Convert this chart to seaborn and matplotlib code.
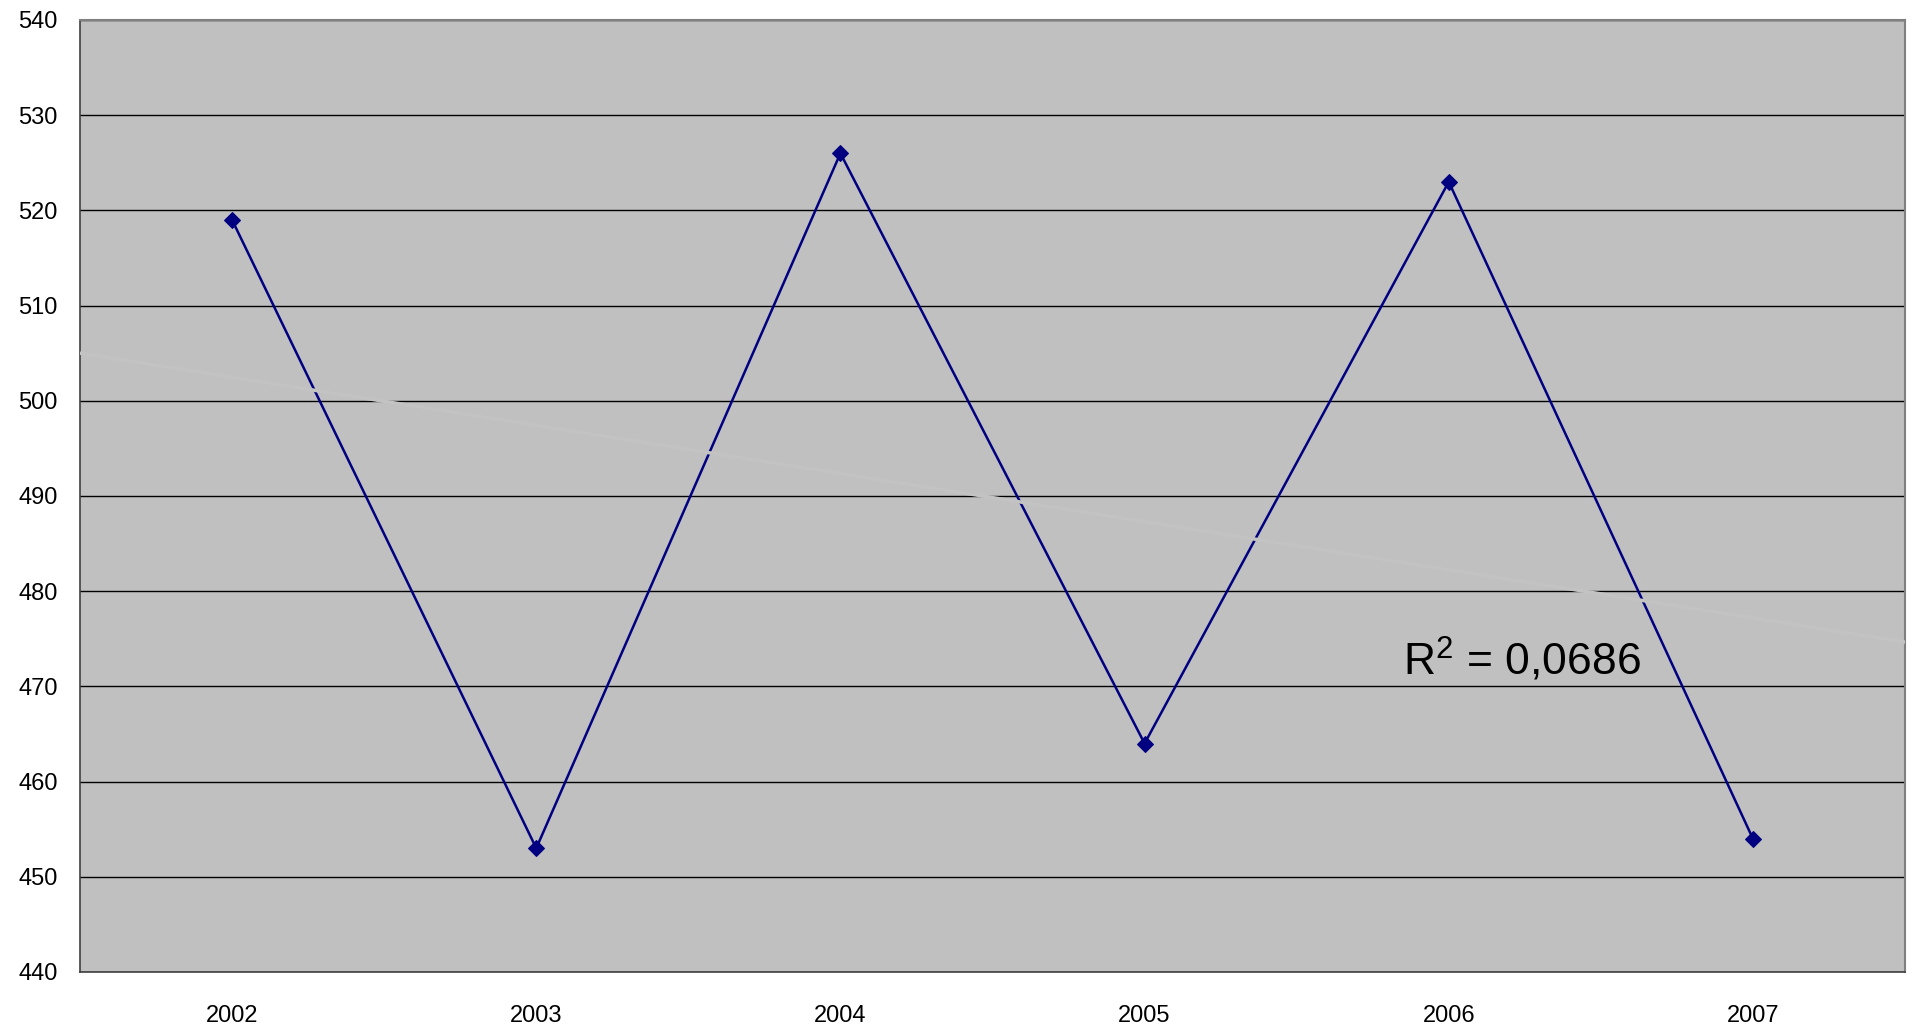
import numpy as np
import pandas as pd
import matplotlib
matplotlib.use('Agg')
import matplotlib.pyplot as plt
import seaborn as sns

# Data
years = ['2002', '2003', '2004', '2005', '2006', '2007']
values = [519, 453, 526, 464, 523, 454]
r2_label = 'R$^2$ = 0,0686'

df = pd.DataFrame({'pos': np.arange(len(years)), 'value': values})

sns.set_style('white')
plt.rcParams['font.family'] = ['Liberation Sans', 'DejaVu Sans']
plt.rcParams['mathtext.fontset'] = 'custom'
plt.rcParams['mathtext.rm'] = 'Liberation Sans'

fig = plt.figure(figsize=(19.12, 10.27), dpi=100)
ax = fig.add_axes([80 / 1912, 1 - 972 / 1027, 1825 / 1912, 952 / 1027])
ax.set_facecolor('#C0C0C0')

# Series
sns.lineplot(data=df, x='pos', y='value', ax=ax, color='#000080', linewidth=1.8,
             marker='D', markersize=8, markeredgecolor='#000080', zorder=3)

# Linear trend (nearly invisible, like the original)
coef = np.polyfit(df['pos'], df['value'], 1)
xs = np.array([-0.5, 5.5])
ax.plot(xs, np.polyval(coef, xs), color='#C3C3C3', linewidth=2.5, zorder=4)
ax.text(3.85, 471.2, r2_label, fontsize=32, va='baseline', ha='left',
        color='black', zorder=5)

# Axes
ax.set_xlim(-0.5, 5.5)
ax.set_ylim(440, 540)
ax.set_yticks(np.arange(440, 541, 10))
ax.yaxis.grid(True, color='black', linewidth=1)
ax.set_axisbelow(True)
ax.set_xticks(np.arange(len(years)))
ax.set_xticklabels(years)
ax.set_xticks(np.arange(-0.5, 6, 1), minor=True)
ax.tick_params(axis='x', which='major', length=0, pad=24, labelsize=17, labelcolor='black')
ax.tick_params(axis='x', which='minor', length=8, width=1, color='#404040', direction='out')
ax.tick_params(axis='y', length=8, width=1, color='#404040', direction='out', pad=8,
               labelsize=17, labelcolor='black')
ax.set_xlabel('')
ax.set_ylabel('')
for side in ['left', 'bottom']:
    ax.spines[side].set_color('#404040')
    ax.spines[side].set_linewidth(1.2)
for side in ['top', 'right']:
    ax.spines[side].set_color('#808080')
    ax.spines[side].set_linewidth(1.5)

fig.savefig('out.png', dpi=100)
